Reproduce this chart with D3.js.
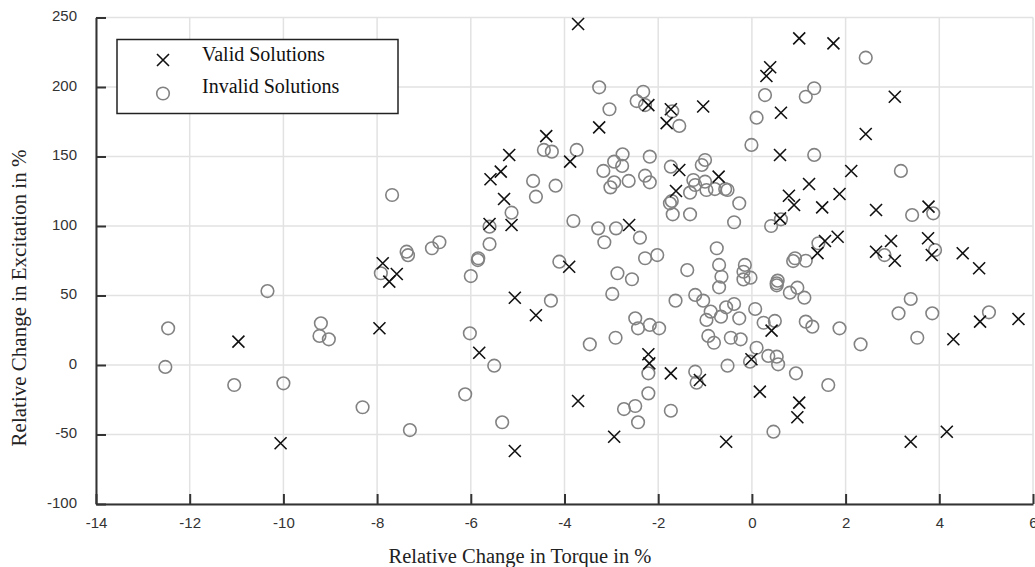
<!DOCTYPE html>
<html>
<head>
<meta charset="utf-8">
<script src="https://cdn.jsdelivr.net/npm/d3@7"></script>
<style>
  body { margin: 0; background: #fff; }
  svg { display: block; }
</style>
</head>
<body>
<div id="chart"></div>
<script>
// tick values
var xTicks = [-14, -12, -10, -8, -6, -4, -2, 0, 2, 4, 6];
var yTicks = [-100, -50, 0, 50, 100, 150, 200, 250];

// [torque change %, excitation change %]
var validPoints = [
    [-3.71, 245.3], [-3.26, 171], [-2.21, 187], [-1.73, 184], [-1.82, 174],
    [-1.04, 186], [-4.39, 164.7], [-3.88, 146.3], [-5.18, 151.1], [-5.36, 139.1],
    [-5.58, 133.6], [-5.29, 119.4], [-5.13, 100.7], [-5.60, 101.4], [-2.62, 100.7],
    [-1.55, 140.3], [-1.62, 125.2], [-0.71, 135.5], [1.01, 235], [1.74, 231.4],
    [0.39, 214.2], [0.31, 207.9], [3.05, 193], [0.62, 181.5], [2.43, 166.2],
    [0.60, 151.1], [2.12, 139.6], [0.79, 121.8], [0.90, 115.1], [1.22, 130.2],
    [1.87, 123], [1.50, 113.4], [2.65, 111.5], [3.77, 113.9], [0.60, 105.5],
    [1.83, 92.3], [1.56, 89.2], [1.40, 80.5], [2.97, 89.2], [3.76, 91.2],
    [2.65, 81.5], [3.05, 75], [3.84, 79.1], [4.50, 80.4], [4.85, 69.6],
    [4.87, 31.2], [5.69, 33.1], [4.30, 18.5], [0.42, 24.7], [-0.01, 4.1],
    [0.17, -19.2], [1.01, -27.1], [0.97, -37.6], [-0.55, -55.2], [3.39, -55.2],
    [4.16, -48], [-1.73, -6], [-1.11, -10.8], [-2.21, 7.7], [-2.19, 1.2],
    [-2.94, -51.6], [-3.71, -25.9], [-3.90, 70.7], [-5.06, 48.4], [-4.61, 35.8],
    [-5.82, 8.8], [-5.06, -61.9], [-7.88, 73.2], [-7.74, 60], [-7.58, 65.5],
    [-7.95, 26.4], [-10.96, 16.8], [-10.06, -56.3]
];

var invalidPoints = [
    [-7.68, 122.3], [-7.37, 81.5], [-7.34, 79], [-6.83, 84], [-6.67, 88.3],
    [-7.92, 66], [-12.46, 26.4], [-12.52, -1.4], [-10.34, 53.2], [-11.05, -14.4],
    [-10.0, -13.2], [-9.20, 30], [-9.23, 20.9], [-9.03, 18.5], [-8.31, -30.4],
    [-7.30, -46.8], [-3.26, 199.8], [-3.04, 184], [-2.32, 196.6], [-2.46, 189.9],
    [-2.28, 187], [-1.70, 182.5], [-1.55, 172], [-4.44, 154.7], [-4.27, 153.5],
    [-3.74, 154.7], [-4.67, 132.4], [-4.61, 121.1], [-4.19, 129], [-5.13, 109.6],
    [-5.60, 99.5], [-5.60, 87], [-5.84, 76.8], [-3.81, 103.6], [-4.11, 74.3],
    [-3.28, 98.3], [-2.90, 98.3], [-3.15, 88.3], [-2.39, 91.6], [-2.28, 76.8],
    [-2.02, 79.1], [-3.17, 139.6], [-2.94, 146.3], [-2.76, 151.6], [-2.77, 143.2],
    [-2.94, 131.4], [-3.02, 127.8], [-2.63, 132.4], [-2.18, 149.9], [-2.28, 136.2],
    [-2.18, 131.4], [-1.73, 142.7], [-1.07, 143.9], [-1.00, 147.5], [-1.25, 133.1],
    [-1.21, 129.5], [-1.32, 124], [-1.00, 131.9], [-0.97, 125.9], [-0.79, 126.6],
    [-0.57, 126.6], [-0.52, 125.9], [-1.75, 116.3], [-1.71, 118], [-1.69, 108.4],
    [-1.32, 108.4], [-0.75, 84], [-0.27, 116.3], [-0.38, 102.7], [2.43, 221.1],
    [0.28, 194.2], [1.33, 199.1], [1.15, 193], [0.10, 177.9], [-0.01, 158.3],
    [1.33, 151.1], [3.18, 139.6], [3.42, 107.9], [3.87, 109.1], [0.62, 104.8],
    [0.41, 100], [1.42, 87.6], [2.83, 79.1], [3.91, 82.7], [0.92, 76.8],
    [0.88, 74.8], [1.15, 75], [-0.70, 72], [-0.65, 63.5], [-0.70, 55.9],
    [-0.15, 72], [-0.18, 67.1], [-0.18, 61.6], [-0.03, 62.8], [0.55, 60.7],
    [0.53, 58.8], [0.53, 57.3], [0.97, 55.6], [0.81, 52], [1.12, 48.4],
    [3.39, 47.5], [3.13, 37.2], [3.85, 37.2], [5.06, 37.9], [3.53, 19.6],
    [2.32, 14.9], [1.87, 26.4], [1.15, 31.2], [1.29, 27.6], [0.49, 31.7],
    [0.25, 30.4], [0.07, 40.3], [-0.55, 41.5], [-0.38, 43.9], [-0.66, 34.8],
    [-0.27, 33.6], [-0.88, 38.4], [-0.45, 19.6], [-0.24, 18.5], [-0.81, 16],
    [0.10, 12.4], [0.35, 6.5], [0.53, 6.0], [0.56, 0.5], [-0.04, 2.4],
    [-0.52, -0.5], [0.94, -6], [1.63, -14.4], [0.46, -48], [-5.85, 75.5],
    [-6.00, 64], [-4.29, 46.3], [-6.02, 22.8], [-5.50, -0.5], [-6.12, -21.1],
    [-5.33, -41.2], [-3.46, 14.9], [-2.98, 51.1], [-2.87, 66], [-2.56, 61.7],
    [-1.38, 68.3], [-2.91, 19.6], [-2.49, 33.6], [-2.43, 26.4], [-2.18, 28.8],
    [-1.98, 26.4], [-2.21, -6], [-2.21, -20.4], [-2.49, -29.5], [-2.73, -31.7],
    [-2.43, -41.2], [-1.73, -32.9], [-1.63, 46.3], [-1.21, 50.4], [-1.04, 46.3],
    [-0.97, 32.4], [-0.93, 20.9], [-1.21, -4.8], [-1.18, -12.7]
];

var legendLabels = ["Valid Solutions", "Invalid Solutions"];

var width = 1035, height = 567;
var plotLeft = 96, plotRight = 1033, plotTop = 17.5, plotBottom = 504;

var svg = d3.select("#chart").append("svg")
    .attr("width", width)
    .attr("height", height);

var xScale = d3.scaleLinear().domain([-14, 6]).range([plotLeft, plotRight]);
var yScale = d3.scaleLinear().domain([-100, 250]).range([plotBottom, plotTop]);

// grid
svg.append("g").selectAll("line")
    .data(xTicks).enter().append("line")
    .attr("x1", function (d) { return xScale(d); })
    .attr("x2", function (d) { return xScale(d); })
    .attr("y1", plotTop).attr("y2", plotBottom)
    .style("stroke", "#e2e2e2").style("stroke-width", 1.5);

svg.append("g").selectAll("line")
    .data(yTicks).enter().append("line")
    .attr("x1", plotLeft).attr("x2", plotRight)
    .attr("y1", function (d) { return yScale(d); })
    .attr("y2", function (d) { return yScale(d); })
    .style("stroke", "#e2e2e2").style("stroke-width", 1.5);

// axes, ticks pointing inward
var fmt = function (d) { return String(d); };
var xAxis = d3.axisBottom(xScale).tickValues(xTicks).tickFormat(fmt)
    .tickSize(-10).tickSizeOuter(0).tickPadding(13);
var yAxis = d3.axisLeft(yScale).tickValues(yTicks).tickFormat(fmt)
    .tickSize(-10).tickSizeOuter(0).tickPadding(19);

var gx = svg.append("g")
    .attr("transform", "translate(0," + plotBottom + ")")
    .call(xAxis);
var gy = svg.append("g")
    .attr("transform", "translate(" + plotLeft + ",0)")
    .call(yAxis);

[gx, gy].forEach(function (g) {
    g.select(".domain").style("stroke", "#333").style("stroke-width", 2);
    g.selectAll(".tick line").style("stroke", "#333").style("stroke-width", 2);
    g.selectAll(".tick text")
        .style("font-family", "'Liberation Sans', Arial, sans-serif")
        .style("font-size", "15px")
        .style("fill", "#333");
});
gy.selectAll(".tick text").attr("dy", "0.2em");

// invalid solutions: grey open circles
svg.append("g").selectAll("circle")
    .data(invalidPoints).enter().append("circle")
    .attr("cx", function (d) { return xScale(d[0]); })
    .attr("cy", function (d) { return yScale(d[1]); })
    .attr("r", 6.3)
    .style("fill", "none")
    .style("stroke", "#828282")
    .style("stroke-width", 1.6);

// valid solutions: black crosses
var cross = "M-6,-6L6,6M-6,6L6,-6";
svg.append("g").selectAll("path")
    .data(validPoints).enter().append("path")
    .attr("transform", function (d) { return "translate(" + xScale(d[0]) + "," + yScale(d[1]) + ")"; })
    .attr("d", cross)
    .style("fill", "none")
    .style("stroke", "#111")
    .style("stroke-width", 1.6);

// axis titles
svg.append("text")
    .attr("x", 520).attr("y", 563)
    .attr("text-anchor", "middle")
    .style("font-family", "'Liberation Serif', 'Times New Roman', serif")
    .style("font-size", "20.5px")
    .style("fill", "#222")
    .text("Relative Change in Torque in %");

svg.append("text")
    .attr("transform", "translate(26,298) rotate(-90)")
    .attr("text-anchor", "middle")
    .style("font-family", "'Liberation Serif', 'Times New Roman', serif")
    .style("font-size", "21px")
    .style("fill", "#222")
    .text("Relative Change in Excitation in %");

// legend
var legend = svg.append("g");
legend.append("rect")
    .attr("x", 117).attr("y", 39.5)
    .attr("width", 281).attr("height", 74)
    .style("fill", "#fff")
    .style("stroke", "#222")
    .style("stroke-width", 1.5);

legend.append("path")
    .attr("transform", "translate(163,60)")
    .attr("d", cross)
    .style("fill", "none").style("stroke", "#111").style("stroke-width", 1.6);
legend.append("circle")
    .attr("cx", 163).attr("cy", 93.5).attr("r", 6.3)
    .style("fill", "none").style("stroke", "#828282").style("stroke-width", 1.6);

legend.selectAll("text")
    .data(legendLabels).enter().append("text")
    .attr("x", 202)
    .attr("y", function (d, i) { return 61 + i * 32; })
    .style("font-family", "'Liberation Serif', 'Times New Roman', serif")
    .style("font-size", "20px")
    .style("fill", "#111")
    .text(function (d) { return d; });
</script>
</body>
</html>
